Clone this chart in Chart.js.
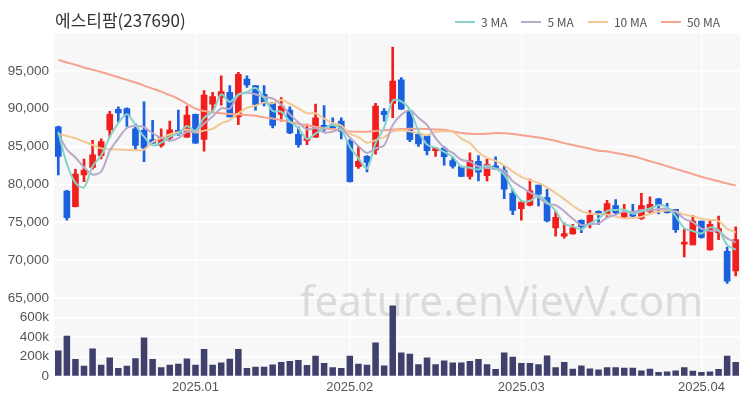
<!DOCTYPE html>
<html>
<head>
<meta charset="utf-8">
<script src="https://cdn.jsdelivr.net/npm/chart.js@4/dist/chart.umd.min.js"></script>
<style>
  html, body { margin: 0; padding: 0; background: #fff; }
  #wrap { position: relative; width: 750px; height: 400px; font-family: 'Noto Sans CJK KR', 'Noto Sans', sans-serif; }
  #chart { position: absolute; left: 0; top: 0; }
  #title { position: absolute; left: 55px; top: 7px; font-size: 17px; color: #333; }
  #legend { position: absolute; right: 30px; top: 13px; display: flex; font-size: 12px; color: #555; }
  .item { display: flex; align-items: center; margin-left: 14px; }
  .swatch { width: 20px; height: 2px; margin-right: 6px; }
</style>
</head>
<body>
<div id="wrap">
  <canvas id="chart" width="750" height="400"></canvas>
  <div id="title">에스티팜(237690)</div>
  <div id="legend"></div>
</div>
<script>
// trading days
const dates = [
  '2024.12.06','2024.12.09','2024.12.10','2024.12.11','2024.12.12','2024.12.13','2024.12.16','2024.12.17',
  '2024.12.18','2024.12.19','2024.12.20','2024.12.23','2024.12.24','2024.12.26','2024.12.27','2024.12.30',
  '2025.01.02','2025.01.03','2025.01.06','2025.01.07','2025.01.08','2025.01.09','2025.01.10','2025.01.13',
  '2025.01.14','2025.01.15','2025.01.16','2025.01.17','2025.01.20','2025.01.21','2025.01.22','2025.01.23',
  '2025.01.24','2025.01.31',
  '2025.02.03','2025.02.04','2025.02.05','2025.02.06','2025.02.07','2025.02.10','2025.02.11','2025.02.12',
  '2025.02.13','2025.02.14','2025.02.17','2025.02.18','2025.02.19','2025.02.20','2025.02.21','2025.02.24',
  '2025.02.25','2025.02.26','2025.02.27','2025.02.28',
  '2025.03.03','2025.03.04','2025.03.05','2025.03.06','2025.03.07','2025.03.10','2025.03.11','2025.03.12',
  '2025.03.13','2025.03.14','2025.03.17','2025.03.18','2025.03.19','2025.03.20','2025.03.21','2025.03.24',
  '2025.03.25','2025.03.26','2025.03.27','2025.03.28','2025.03.31',
  '2025.04.01','2025.04.02','2025.04.03','2025.04.04','2025.04.07'
];

const opens = [
  87600,79100,77050,81250,82250,83800,87200,89900,90000,87350,87150,85900,85150,86150,87150,86250,
  89250,85950,90600,91500,92150,88900,93900,93050,91900,90800,89250,89800,86600,85800,86250,87800,
  87900,88350,85700,82350,83700,84550,89650,90700,93800,89700,86600,86400,84450,84800,83150,82350,
  81050,83050,81150,82450,81800,78800,76800,77250,79900,78250,74250,73150,73450,75250,74800,76450,
  76000,77200,75700,76250,75500,76400,78100,76800,76700,72100,72000,75150,71350,73600,71150,68550
];
const highs = [
  87700,79200,82000,83350,85800,86000,89650,90250,90100,88000,90900,88450,87350,88350,89800,90350,
  89300,92400,92150,94350,93050,94800,94350,93100,93050,90850,91450,90250,87600,87950,90600,90400,
  88800,88800,85900,85000,83800,90700,90000,98150,94100,89750,86700,86450,84800,85000,83600,82400,
  84150,83800,83350,83650,82450,79350,77700,80700,79900,79350,76450,74900,74700,75300,76550,76500,
  77900,78000,77350,77350,78800,78350,78150,77500,76700,74100,75900,75150,75250,75800,71700,74400
];
const lows = [
  81250,75250,77000,80350,82000,83350,86250,88250,87650,84450,83000,85400,84900,85800,86450,86200,
  85400,84400,89600,90450,88900,87900,92800,89800,90350,87450,88350,86700,84900,85250,86200,87050,
  87400,86000,80300,82100,81650,84000,88350,88800,89900,85650,85000,83900,83700,82550,82150,81000,
  80700,80450,80450,82000,78100,76000,75250,77150,77150,75050,73150,72900,73400,73600,74250,74700,
  75600,76000,75500,75500,75350,76250,76100,76200,73650,70400,72000,72900,71300,72700,66900,67900
];
const closes = [
  83700,75600,81350,81900,83900,85650,89250,89450,89000,85150,84800,85450,86250,87200,86700,89150,
  85450,91800,91600,92250,88900,94550,93150,90550,90700,87800,90350,86800,85250,86000,88800,87350,
  87450,87000,80350,83050,82900,90350,89200,93650,89950,85900,85350,84450,84800,83650,82400,81050,
  83150,81600,82600,82000,79350,76550,77650,79150,78700,75150,75650,73500,74250,74400,75900,76100,
  77450,76250,76250,75800,77200,77350,77200,76250,74000,72350,75150,73000,74700,74150,67200,72700
];
const volumes = [
  264000,414000,176000,108000,285000,119000,193000,85000,108000,186000,397000,176000,92000,119000,129000,183000,
  119000,278000,119000,142000,180000,278000,85000,98000,98000,122000,146000,156000,166000,115000,210000,136000,
  92000,85000,210000,129000,119000,346000,112000,722000,244000,231000,125000,193000,125000,163000,142000,142000,
  156000,176000,125000,75000,244000,200000,136000,136000,125000,214000,92000,146000,78000,112000,81000,71000,
  92000,92000,88000,88000,61000,78000,44000,51000,61000,92000,58000,44000,51000,75000,210000,146000
];

// moving averages
const ma3 = [
  86950,82700,80200,79600,82400,83800,86250,88100,89250,87850,86300,85150,85500,86300,86700,87700,
  87100,88800,89600,91900,90900,91900,92200,92750,91450,89700,89600,88300,87450,86000,86700,87400,
  87850,87250,84950,83450,82100,85450,87500,91050,90950,89850,87050,85250,84850,84300,83600,82350,
  82200,81950,82450,82050,81300,79300,77850,77800,78500,77650,76500,74750,74450,74050,74850,75450,
  76500,76600,76650,76100,76400,76800,77250,76950,75800,74200,73850,73500,74300,73950,72000,71350
];
const ma5 = [
  86700,84600,83550,82250,81300,81700,84400,86050,87450,87700,87550,86750,86150,85750,86100,86950,
  86950,88050,88950,90050,90000,91800,92100,91900,91550,91350,90500,89250,88200,87250,87450,86850,
  86950,87300,86200,85050,84150,84750,85150,87850,89200,89800,88800,87850,86100,84850,84150,83250,
  83000,82350,82150,82100,81750,80400,79650,78950,78300,77450,77250,76450,75450,74600,74750,74850,
  75600,76000,76400,76350,76600,76550,76750,76750,76400,75450,75000,74150,73850,73850,72850,72350
];
const ma10 = [
  86650,86400,86100,85650,85200,84750,84650,84600,84550,84500,84600,85600,86100,86600,86900,87250,
  86850,87100,87350,88050,88500,89400,90100,90400,90800,90700,91150,90650,90050,89400,89400,88700,
  88100,87750,86700,86250,85500,85850,86250,87000,87150,87000,86750,86500,86950,87000,86950,86050,
  85450,84250,83500,83100,82500,81700,81000,80550,80200,79600,78850,78050,77200,76450,76100,76050,
  76000,75750,75500,75550,75700,76100,76400,76550,76400,76000,75800,75450,75300,75150,74150,73650
];
const ma50 = [
  96450,96100,95800,95450,95150,94850,94500,94150,93800,93450,93050,92650,92250,91800,91300,90650,
  90000,89700,89500,89400,89300,89250,89150,89050,88850,88700,88500,88250,88000,87800,87600,87400,
  87300,87150,87000,86950,86950,87050,87150,87250,87300,87350,87350,87300,87250,87200,87000,86800,
  86700,86650,86700,86780,86750,86650,86500,86350,86200,86000,85750,85450,85200,84950,84700,84450,
  84350,84150,83950,83700,83400,83050,82750,82400,82050,81700,81350,81000,80700,80400,80100,79850
];

const maNames = ['3 MA', '5 MA', '10 MA', '50 MA'];
const maColors = ['#86d4c9', '#b9a9c9', '#f4c894', '#f5a28e'];
const maSeries = [ma3, ma5, ma10, ma50];

const upColor = '#f21d1d';
const downColor = '#1a60df';
const volColor = '#40406d';

// legend
const legendEl = document.getElementById('legend');
maNames.forEach((name, i) => {
  legendEl.insertAdjacentHTML('beforeend',
    '<div class="item"><div class="swatch" style="background:' + maColors[i] + '"></div>' + name + '</div>');
});

const candleColors = opens.map((o, i) => closes[i] >= o ? upColor : downColor);

const isMonthStart = (i) => i > 0 && dates[i].slice(0, 7) !== dates[i - 1].slice(0, 7);

const plotBg = {
  id: 'plotBg',
  beforeDraw(chart) {
    const { ctx, chartArea: a } = chart;
    ctx.save();
    ctx.fillStyle = '#f7f7f7';
    ctx.fillRect(a.left, a.top, a.right - a.left, a.bottom - a.top);
    ctx.restore();
  },
  beforeDatasetsDraw(chart) {
    const { ctx } = chart;
    ctx.save();
    ctx.font = '42px "Noto Sans", sans-serif';
    ctx.fillStyle = 'rgba(200,200,200,0.6)';
    ctx.textBaseline = 'alphabetic';
    ctx.fillText('feature.enVievV.com', 300, 316);
    ctx.restore();
  }
};

const lineSets = maSeries.map((s, i) => ({
  type: 'line',
  label: maNames[i],
  data: s,
  yAxisID: 'y',
  borderColor: maColors[i],
  borderWidth: 2,
  pointRadius: 0,
  tension: 0.3,
  fill: false,
  order: 0
}));

new Chart(document.getElementById('chart'), {
  type: 'bar',
  data: {
    labels: dates,
    datasets: [
      ...lineSets,
      {
        label: 'body',
        data: opens.map((o, i) => [o, closes[i]]),
        yAxisID: 'y',
        backgroundColor: candleColors,
        barThickness: 6,
        minBarLength: 2,
        grouped: false,
        order: 1
      },
      {
        label: 'wick',
        data: lows.map((l, i) => [l, highs[i]]),
        yAxisID: 'y',
        backgroundColor: candleColors,
        barThickness: 2,
        grouped: false,
        order: 2
      },
      {
        label: 'volume',
        data: volumes,
        yAxisID: 'yVol',
        backgroundColor: volColor,
        barPercentage: 0.76,
        categoryPercentage: 1,
        grouped: false,
        order: 3
      }
    ]
  },
  options: {
    responsive: false,
    animation: false,
    layout: { padding: { top: 33, right: 10, bottom: 2, left: 0 } },
    plugins: {
      legend: { display: false },
      tooltip: { enabled: false }
    },
    scales: {
      x: {
        offset: true,
        grid: {
          offset: false,
          drawTicks: false,
          color: (ctx) => isMonthStart(ctx.index) ? '#ffffff' : 'rgba(0,0,0,0)',
          lineWidth: 1.5
        },
        border: { display: false },
        ticks: {
          autoSkip: false,
          maxRotation: 0,
          padding: 3,
          color: '#555',
          font: { size: 13 },
          callback: (v, i) => isMonthStart(i) ? dates[i].slice(0, 7) : ''
        }
      },
      // volume pane listed first so the price pane lands on top
      yVol: {
        position: 'left',
        stack: 'panes',
        stackWeight: 78,
        min: 0,
        max: 800000,
        grid: { color: '#ffffff', lineWidth: 1.5, drawTicks: false },
        border: { display: false },
        ticks: {
          stepSize: 200000,
          autoSkip: false,
          padding: 5,
          color: '#555',
          font: { size: 13.5 },
          callback: (v) => v === 0 ? '0' : (v >= 800000 ? '' : (v / 1000) + 'k')
        },
        afterFit: (s) => { s.width = 54; }
      },
      y: {
        position: 'left',
        stack: 'panes',
        stackWeight: 263,
        min: 65000,
        max: 100000,
        grid: { color: '#ffffff', lineWidth: 1.5, drawTicks: false },
        border: { display: false },
        ticks: {
          stepSize: 5000,
          autoSkip: false,
          padding: 5,
          color: '#555',
          font: { size: 13.5 },
          callback: (v) => v >= 100000 ? '' : v.toLocaleString('en-US')
        },
        afterFit: (s) => { s.width = 54; }
      }
    }
  },
  plugins: [plotBg]
});
</script>
</body>
</html>
